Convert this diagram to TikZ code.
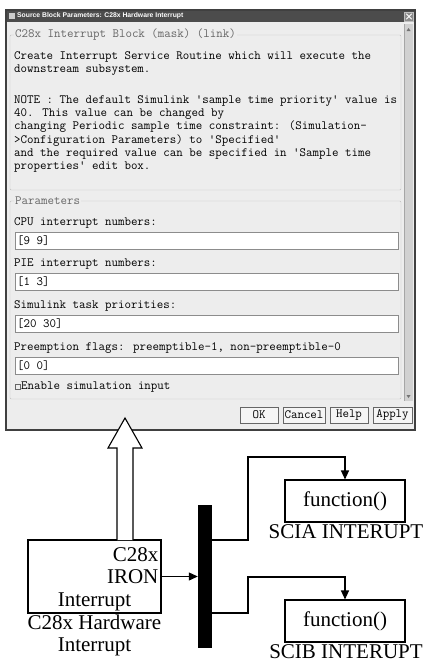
\documentclass[tikz,border=0pt]{standalone}
\usepackage{fontspec}
\setmainfont{Liberation Serif}
\newfontfamily\titlefont{Liberation Sans}
\usetikzlibrary{positioning,calc,arrows.meta}

\newcommand{\dlgfont}{\fontsize{12.6}{13.2}\selectfont\ttfamily}
\newcommand{\diafont}{\fontsize{21}{22}\selectfont}

\tikzstyle{winfill}=[fill=black!7]
\tikzstyle{groupline}=[draw=black!25, rounded corners=1pt]
\tikzstyle{grouptitle}=[fill=black!7, text=black!60, inner sep=1pt, anchor=west, font=\dlgfont]
\tikzstyle{dlgtext}=[inner sep=0pt, anchor=west, font=\dlgfont, align=left]
\tikzstyle{field}=[draw=black!45, fill=white, minimum width=383pt, minimum height=16.5pt, inner sep=0pt, anchor=north west]
\tikzstyle{btn}=[draw=black!60, fill=black!4, minimum height=16pt, inner sep=0pt, font=\dlgfont]
\tikzstyle{blk}=[draw, line width=1.1pt, fill=white]
\tikzstyle{flow}=[line width=1.1pt, -{Triangle[length=9pt,width=8pt]}]

\newcommand{\paramfield}[4]{
	\node[dlgtext] (#1label) at (14,#2) {#3};
	\node[field] (#1) at (15,#2+9) {};
	\node[dlgtext] (#1value) at ($(#1.west)+(2,0)$) {#4};
}

\begin{document}
\begin{tikzpicture}[x=1pt,y=-1pt]
	\useasboundingbox (0,0) rectangle (425,670);
	% dialog window
	\fill[winfill] (6,10) rectangle (415,430);
	\fill[black!70] (6,10) rectangle (415,22);
	\fill[black!20] (9,13) rectangle (15,19);
	\node[anchor=west, text=white, inner sep=0pt, font=\titlefont\bfseries\fontsize{6.8}{7}\selectfont] (title) at (17,16) {Source Block Parameters: C28x Hardware Interrupt};
	\node[draw=black!25, fill=black!45, minimum size=9pt, inner sep=0pt] (close) at (409,16.5) {};
	\draw[white, line width=1pt] ($(close.north west)+(2,2)$) -- ($(close.south east)+(-2,-2)$);
	\draw[white, line width=1pt] ($(close.south west)+(2,-2)$) -- ($(close.north east)+(-2,2)$);
	\draw[line width=1.8pt, black!75] (6,10) rectangle (415,430);
	% scroll bar
	\fill[black!18] (404,24) rectangle (413,401);
	\draw[black!35] (404,24) -- (404,401);
	\fill[black!55] (406.5,31) -- (410.5,31) -- (408.5,28) -- cycle;
	\fill[black!55] (406.5,395) -- (410.5,395) -- (408.5,398) -- cycle;
	% description
	\draw[groupline] (10,35) rectangle (401,190);
	\node[grouptitle] (desctitle) at (14,35) {C28x Interrupt Block (mask) (link)};
	\node[dlgtext] (desc) at (14,63.5) {Create Interrupt Service Routine which will execute the\\downstream subsystem.};
	\node[dlgtext] (note) at (14,134) {NOTE : The default Simulink 'sample time priority' value is\\40. This value can be changed by\\changing Periodic sample time constraint: (Simulation-\\>Configuration Parameters) to 'Specified'\\and the required value can be specified in 'Sample time\\properties' edit box.};
	% parameters
	\draw[groupline] (10,201) rectangle (401,399);
	\node[grouptitle] (partitle) at (14,201) {Parameters};
	\paramfield{cpu}{223}{CPU interrupt numbers:}{[9 9]}
	\paramfield{pie}{264}{PIE interrupt numbers:}{[1 3]}
	\paramfield{prio}{306}{Simulink task priorities:}{[20 30]}
	\paramfield{flags}{348}{Preemption flags: preemptible-1, non-preemptible-0}{[0 0]}
	\draw[black!60] (15,384.5) rectangle (20,389.5);
	\node[dlgtext] (enable) at (21,387) {Enable simulation input};
	\node[btn, minimum width=38pt] (ok) at (259,415) {OK};
	\node[btn, minimum width=42pt] (cancel) at (304,415) {Cancel};
	\node[btn, minimum width=38pt] (help) at (349,415) {Help};
	\node[btn, minimum width=39pt] (apply) at (392.5,415) {Apply};
	% model
	\node[blk, minimum width=133pt, minimum height=73pt] (hw) at (94.5,576.5) {};
	\node[anchor=east, align=right, font=\diafont, inner sep=1pt] (hwname) at ($(hw.east)+(-2,-11)$) {C28x\\IRON};
	\node[font=\diafont, inner sep=0pt] (hwtype) at ($(hw.south)+(0,-12)$) {Interrupt};
	\node[below=1pt of hw, align=center, font=\diafont, inner sep=0pt] (hwlabel) {C28x Hardware\\Interrupt};
	\draw[line width=1.1pt, fill=white] (117,540) -- (117,448) -- (108,448) -- (125,418) -- (142,448) -- (133,448) -- (133,540);
	\node[fill=black, minimum width=14pt, minimum height=143pt, inner sep=0pt] (bar) at (205,576.5) {};
	\draw[flow] (hw.east) -- (bar.west);
	\node[blk, minimum width=120pt, minimum height=42pt, font=\diafont] (fa) at (345,501) {function()};
	\node[below=2pt of fa, font=\diafont, inner sep=0pt, xshift=1pt] (falabel) {SCIA INTERUPT};
	\node[blk, minimum width=120pt, minimum height=42pt, font=\diafont] (fb) at (345,621) {function()};
	\node[below=2pt of fb, font=\diafont, inner sep=0pt, xshift=1pt] (fblabel) {SCIB INTERUPT};
	\coordinate (ja) at (248,540);
	\coordinate (ta) at (345,457);
	\coordinate (jb) at (248,613);
	\coordinate (tb) at (345,577);
	\draw[flow] (bar.east |- ja) -- (ja) |- (ta) -- (fa.north);
	\draw[flow] (bar.east |- jb) -- (jb) |- (tb) -- (fb.north);
\end{tikzpicture}
\end{document}
